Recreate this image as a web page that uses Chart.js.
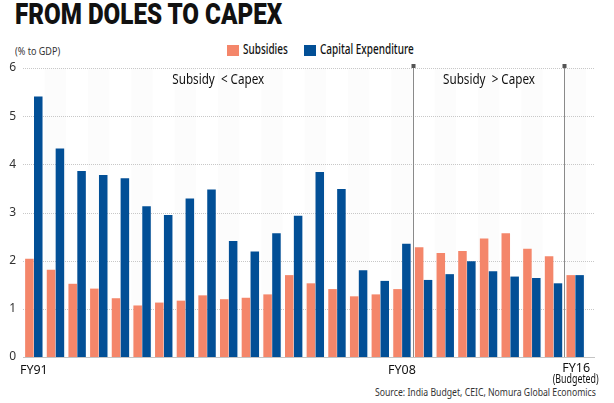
<!DOCTYPE html>
<html>
<head>
<meta charset="utf-8">
<script src="https://cdn.jsdelivr.net/npm/chart.js@4/dist/chart.umd.min.js"></script>
<style>
  html, body { margin: 0; padding: 0; background: #fff; }
  body { width: 614px; height: 403px; position: relative; overflow: hidden; font-family: 'Noto Sans', 'Roboto', sans-serif; font-stretch: condensed; color: #222; }
  #chart { position: absolute; left: 0; top: 0; }
  .txt { position: absolute; white-space: nowrap; transform-origin: left top; line-height: 1; }
  .title { left: 15px; top: 0px; font-family: 'Roboto', 'Liberation Sans', sans-serif; font-stretch: normal; font-weight: 900; font-size: 29px; color: #111; }
  .unit { left: 15px; top: 45px; font-size: 11.5px; color: #333; }
  .leg { top: 42.5px; font-size: 13.5px; color: #111; font-weight: 500; }
  .box { position: absolute; top: 45px; width: 12px; height: 11px; }
  .source { left: 375px; top: 386px; font-size: 11.5px; color: #333; }
</style>
</head>
<body>
<div class="txt title" data-w="267">FROM DOLES TO CAPEX</div>
<div class="txt unit" data-w="45">(% to GDP)</div>
<div class="box" style="left:227px;background:#f4866a"></div>
<div class="txt leg" style="left:243px" data-w="45">Subsidies</div>
<div class="box" style="left:304px;background:#024f96"></div>
<div class="txt leg" style="left:320px" data-w="94">Capital Expenditure</div>
<div class="txt source" data-w="221">Source: India Budget, CEIC, Nomura Global Economics</div>
<canvas id="chart" width="614" height="403"></canvas>
<script>
// Data
const years = ['FY91', 'FY92', 'FY93', 'FY94', 'FY95', 'FY96', 'FY97', 'FY98', 'FY99', 'FY00',
  'FY01', 'FY02', 'FY03', 'FY04', 'FY05', 'FY06', 'FY07', 'FY08', 'FY09', 'FY10',
  'FY11', 'FY12', 'FY13', 'FY14', 'FY15', 'FY16'];
const subsidies = [2.04, 1.81, 1.52, 1.42, 1.22, 1.07, 1.13, 1.17, 1.28, 1.20,
  1.23, 1.30, 1.70, 1.53, 1.41, 1.26, 1.30, 1.41, 2.28, 2.16,
  2.20, 2.46, 2.57, 2.25, 2.09, 1.70];
const capex = [5.41, 4.33, 3.86, 3.78, 3.71, 3.13, 2.95, 3.29, 3.48, 2.41,
  2.19, 2.57, 2.93, 3.84, 3.49, 1.80, 1.58, 2.35, 1.60, 1.72,
  1.99, 1.78, 1.67, 1.64, 1.53, 1.70];
const shownLabels = { 'FY91': 'FY91', 'FY08': 'FY08' };
const budgetedYear = 'FY16';
const yTicks = [0, 1, 2, 3, 4, 5, 6];
// periods split after these years
const splitAfter = ['FY08', 'FY15'];
const periodNotes = ['Subsidy  < Capex', 'Subsidy  > Capex'];

const FONT = "'Noto Sans', 'Roboto', sans-serif";

// squeeze html texts to the widths in the original
document.querySelectorAll('[data-w]').forEach(el => {
  el.style.transform = 'scaleX(' + (+el.dataset.w / el.offsetWidth) + ')';
});

// draw text squeezed to a given width, centred on cx
function squeezedText(ctx, t, cx, by, w) {
  const k = w / ctx.measureText(t).width;
  ctx.save();
  ctx.translate(cx - w / 2, by);
  ctx.scale(k, 1);
  ctx.fillText(t, 0, 0);
  ctx.restore();
}

// background stripes, grid, dividers and notes
const decorPlugin = {
  id: 'decor',
  beforeDatasetsDraw(chart) {
    const { ctx, chartArea: a, scales: { x, y } } = chart;
    const step = x.getPixelForValue(1) - x.getPixelForValue(0);
    ctx.save();
    ctx.fillStyle = 'rgba(0,0,0,0.012)';
    years.forEach((yr, i) => {
      if (i % 2 === 1) ctx.fillRect(x.getPixelForValue(i) - step / 2, a.top, step, a.bottom - a.top);
    });
    ctx.strokeStyle = '#c8c8c8';
    ctx.lineWidth = 1;
    ctx.setLineDash([1, 1]);
    yTicks.forEach(v => {
      if (v === 0) return;
      const py = Math.round(y.getPixelForValue(v)) + 0.5;
      ctx.beginPath();
      ctx.moveTo(a.left, py);
      ctx.lineTo(a.right + 9, py);
      ctx.stroke();
    });
    ctx.setLineDash([]);
    ctx.strokeStyle = '#c4c4c4';
    const py0 = Math.round(y.getPixelForValue(0)) + 0.5;
    ctx.beginPath();
    ctx.moveTo(a.left, py0);
    ctx.lineTo(a.right + 9, py0);
    ctx.stroke();
    ctx.restore();
  },
  afterDatasetsDraw(chart) {
    const { ctx, chartArea: a, scales: { x } } = chart;
    const edges = [a.left];
    ctx.save();
    splitAfter.forEach(yr => {
      const i = years.indexOf(yr);
      const px = Math.round((x.getPixelForValue(i) + x.getPixelForValue(i + 1)) / 2) + 0.5;
      edges.push(px);
      ctx.strokeStyle = '#8a8a8a';
      ctx.lineWidth = 1;
      ctx.beginPath();
      ctx.moveTo(px, a.top - 2);
      ctx.lineTo(px, a.bottom);
      ctx.stroke();
      ctx.fillStyle = '#555';
      ctx.fillRect(px - 2, a.top - 4, 4, 4);
    });
    ctx.fillStyle = '#111';
    ctx.font = 'condensed 14px ' + FONT;
    ctx.textBaseline = 'alphabetic';
    periodNotes.forEach((t, i) => {
      squeezedText(ctx, t, (edges[i] + edges[i + 1]) / 2, a.top + 16, 92);
    });
    // last year label, raised, with "(Budgeted)" under it
    const bx = x.getPixelForValue(years.indexOf(budgetedYear)) + 1;
    ctx.font = 'condensed 12.5px ' + FONT;
    ctx.textAlign = 'center';
    ctx.fillText(budgetedYear, bx, a.bottom + 14.5);
    ctx.textAlign = 'left';
    ctx.font = 'condensed 13px ' + FONT;
    squeezedText(ctx, '(Budgeted)', bx - 0.5, a.bottom + 26, 46);
    ctx.restore();
  }
};

new Chart(document.getElementById('chart'), {
  type: 'bar',
  data: {
    labels: years,
    datasets: [{
      label: 'Subsidies',
      data: subsidies,
      backgroundColor: '#f4866a',
      borderWidth: 0,
      barPercentage: 0.96,
      categoryPercentage: 0.82
    }, {
      label: 'Capital Expenditure',
      data: capex,
      backgroundColor: '#024f96',
      borderWidth: 0,
      barPercentage: 0.96,
      categoryPercentage: 0.82
    }]
  },
  options: {
    responsive: false,
    animation: false,
    layout: { padding: { top: 68, right: 28, left: 0, bottom: 0 } },
    plugins: {
      legend: { display: false },
      tooltip: { enabled: false }
    },
    scales: {
      x: {
        grid: { display: false, drawTicks: false },
        border: { display: false },
        afterFit: s => { s.height = 46; },
        ticks: {
          autoSkip: false,
          maxRotation: 0,
          padding: 6,
          color: '#111',
          font: { family: FONT, size: 12.5, style: 'condensed' },
          callback: function (v) { return shownLabels[years[v]] || ''; }
        }
      },
      y: {
        min: 0,
        max: 6,
        grid: { display: false, drawTicks: false },
        border: { display: false },
        afterFit: s => { s.width = 23; },
        afterBuildTicks: s => { s.ticks = yTicks.map(v => ({ value: v })); },
        ticks: {
          padding: 7,
          color: '#333',
          font: { family: FONT, size: 12, style: 'condensed' }
        }
      }
    }
  },
  plugins: [decorPlugin]
});
</script>
</body>
</html>
